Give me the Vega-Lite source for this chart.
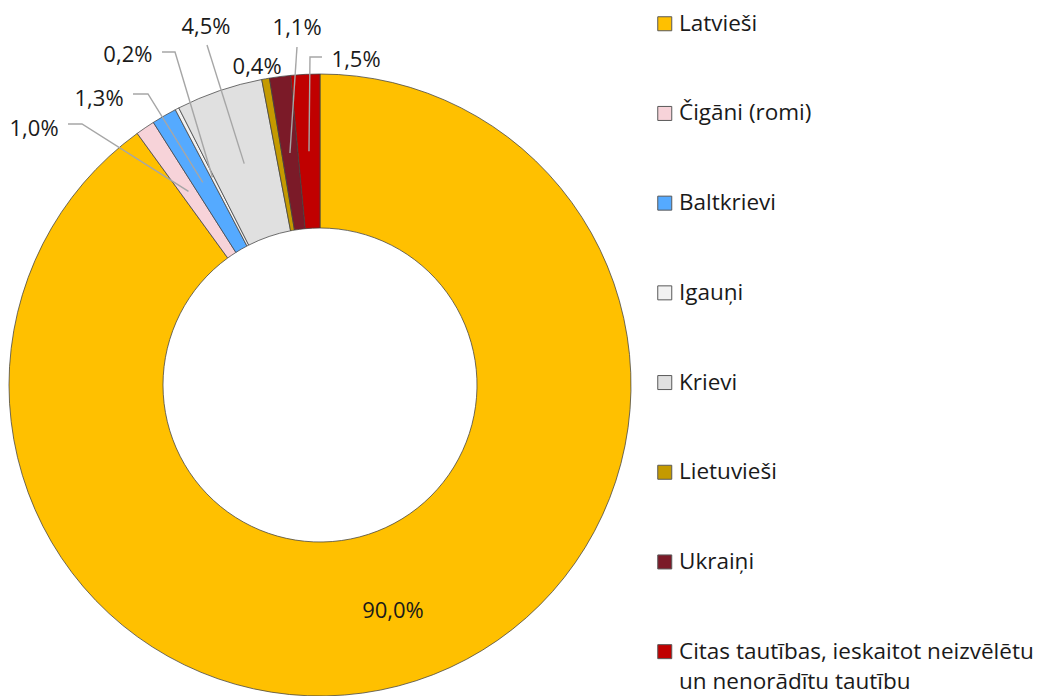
{
  "$schema": "https://vega.github.io/schema/vega-lite/v6.json",
  "width": 1037,
  "height": 696,
  "autosize": {"type": "none"},
  "padding": 0,
  "background": "white",
  "config": {"view": {"stroke": null}, "font": "Open Sans", "style": {"guide-label": {"lineHeight": 30}}},
  "data": {
    "values": [
      {"group": "Latvieši", "share": 90.0},
      {"group": "Čigāni (romi)", "share": 1.0},
      {"group": "Baltkrievi", "share": 1.3},
      {"group": "Igauņi", "share": 0.2},
      {"group": "Krievi", "share": 4.5},
      {"group": "Lietuvieši", "share": 0.4},
      {"group": "Ukraiņi", "share": 1.1},
      {"group": "Citas tautības, ieskaitot neizvēlētu un nenorādītu tautību", "share": 1.5}
    ]
  },
  "transform": [
    {"calculate": "indexof(['Latvieši','Čigāni (romi)','Baltkrievi','Igauņi','Krievi','Lietuvieši','Ukraiņi','Citas tautības, ieskaitot neizvēlētu un nenorādītu tautību'], datum.group)", "as": "k"}
  ],
  "layer": [
    {
      "mark": {"type": "arc", "radius": 311, "radius2": 157, "x": 320, "y": 385, "stroke": "#404040", "strokeWidth": 0.75},
      "encoding": {
        "theta": {"field": "share", "type": "quantitative", "stack": true, "scale": {"domain": [0, 100]}},
        "order": {"field": "k", "type": "quantitative"},
        "color": {
          "field": "group",
          "type": "nominal",
          "scale": {
            "domain": ["Latvieši", "Čigāni (romi)", "Baltkrievi", "Igauņi", "Krievi", "Lietuvieši", "Ukraiņi", "Citas tautības, ieskaitot neizvēlētu un nenorādītu tautību"],
            "range": ["#FFC000", "#F7D3D9", "#55AAFF", "#F2F2F2", "#E0E0E0", "#C49A00", "#7B1A28", "#C00000"]
          },
          "legend": {
            "orient": "none",
            "legendX": 653.5,
            "legendY": 12.5,
            "title": null,
            "symbolType": "square",
            "symbolSize": 196,
            "symbolStrokeColor": "#595959",
            "symbolStrokeWidth": 1,
            "symbolOpacity": 1,
            "labelFontSize": 22.5,
            "labelFont": "Open Sans",
            "labelColor": "#1a1a1a",
            "labelLimit": 450,
            "rowPadding": 66.7,
            "labelOffset": 3,
            "padding": 0,
            "labelExpr": "datum.label == 'Citas tautības, ieskaitot neizvēlētu un nenorādītu tautību' ? ['Citas tautības, ieskaitot neizvēlētu', 'un nenorādītu tautību'] : datum.label"
          }
        }
      }
    },
    {
      "transform": [
        {"window": [{"op": "sum", "field": "share", "as": "cum"}], "sort": [{"field": "k"}], "frame": [null, 0]},
        {"calculate": "(datum.cum - datum.share / 2) / 100 * 2 * PI", "as": "mid"},
        {"calculate": "0.7524 * sin(datum.mid)", "as": "cx"},
        {"calculate": "0.7524 * cos(datum.mid)", "as": "cy"},
        {"calculate": "{'Latvieši': [], 'Čigāni (romi)': [-0.8103, -0.7653, datum.cx], 'Baltkrievi': [-0.6013, -0.5531, datum.cx], 'Igauņi': [-0.5080, -0.4662, datum.cx], 'Krievi': [-0.3633, datum.cx], 'Lietuvieši': [], 'Ukraiņi': [-0.0740, datum.cx], 'Citas tautības, ieskaitot neizvēlētu un nenorādītu tautību': [0.0064, -0.0322, datum.cx]}[datum.group]", "as": "xs"},
        {"calculate": "{'Latvieši': [], 'Čigāni (romi)': [0.8392, 0.8392, datum.cy], 'Baltkrievi': [0.9357, 0.9357, datum.cy], 'Igauņi': [1.0707, 1.0707, datum.cy], 'Krievi': [1.0932, datum.cy], 'Lietuvieši': [], 'Ukraiņi': [1.0868, datum.cy], 'Citas tautības, ieskaitot neizvēlētu un nenorādītu tautību': [1.0547, 1.0547, datum.cy]}[datum.group]", "as": "ys"},
        {"calculate": "{'Latvieši': [], 'Čigāni (romi)': [0, 1, 2], 'Baltkrievi': [0, 1, 2], 'Igauņi': [0, 1, 2], 'Krievi': [0, 1], 'Lietuvieši': [], 'Ukraiņi': [0, 1], 'Citas tautības, ieskaitot neizvēlētu un nenorādītu tautību': [0, 1, 2]}[datum.group]", "as": "ks"},
        {"flatten": ["xs", "ys", "ks"], "as": ["px", "py", "pk"]}
      ],
      "mark": {"type": "line", "color": "#A6A6A6", "strokeWidth": 1.4},
      "encoding": {
        "x": {"field": "px", "type": "quantitative", "axis": null, "scale": {"domain": [-1.028939, 2.305466], "nice": false, "zero": false}},
        "y": {"field": "py", "type": "quantitative", "axis": null, "scale": {"domain": [-1.0, 1.237942], "nice": false, "zero": false}},
        "detail": {"field": "group", "type": "nominal"},
        "order": {"field": "pk", "type": "quantitative"}
      }
    },
    {
      "transform": [
        {"calculate": "{'Latvieši': 45.03, 'Čigāni (romi)': 86.62, 'Baltkrievi': 89.53, 'Igauņi': 91.61, 'Krievi': 95.09, 'Lietuvieši': 96.89, 'Ukraiņi': 98.98, 'Citas tautības, ieskaitot neizvēlētu un nenorādītu tautību': 1.76}[datum.group]", "as": "la"},
        {"calculate": "{'Latvieši': 0.764, 'Čigāni (romi)': 1.234, 'Baltkrievi': 1.162, 'Igauņi': 1.228, 'Krievi': 1.208, 'Lietuvieši': 1.042, 'Ukraiņi': 1.15, 'Citas tautības, ieskaitot neizvēlētu un nenorādītu tautību': 1.051}[datum.group]", "as": "lr"},
        {"calculate": "replace(format(datum.share, '.1f'), '.', ',') + '%'", "as": "lab"}
      ],
      "mark": {"type": "text", "x": 320, "y": 385, "fontSize": 22, "color": "#1a1a1a", "align": "center", "baseline": "middle"},
      "encoding": {
        "theta": {"field": "la", "type": "quantitative", "stack": null, "scale": {"domain": [0, 100]}},
        "radius": {"field": "lr", "type": "quantitative", "scale": {"type": "linear", "domain": [0, 1], "range": [0, 311]}},
        "text": {"field": "lab", "type": "nominal"}
      }
    }
  ]
}
